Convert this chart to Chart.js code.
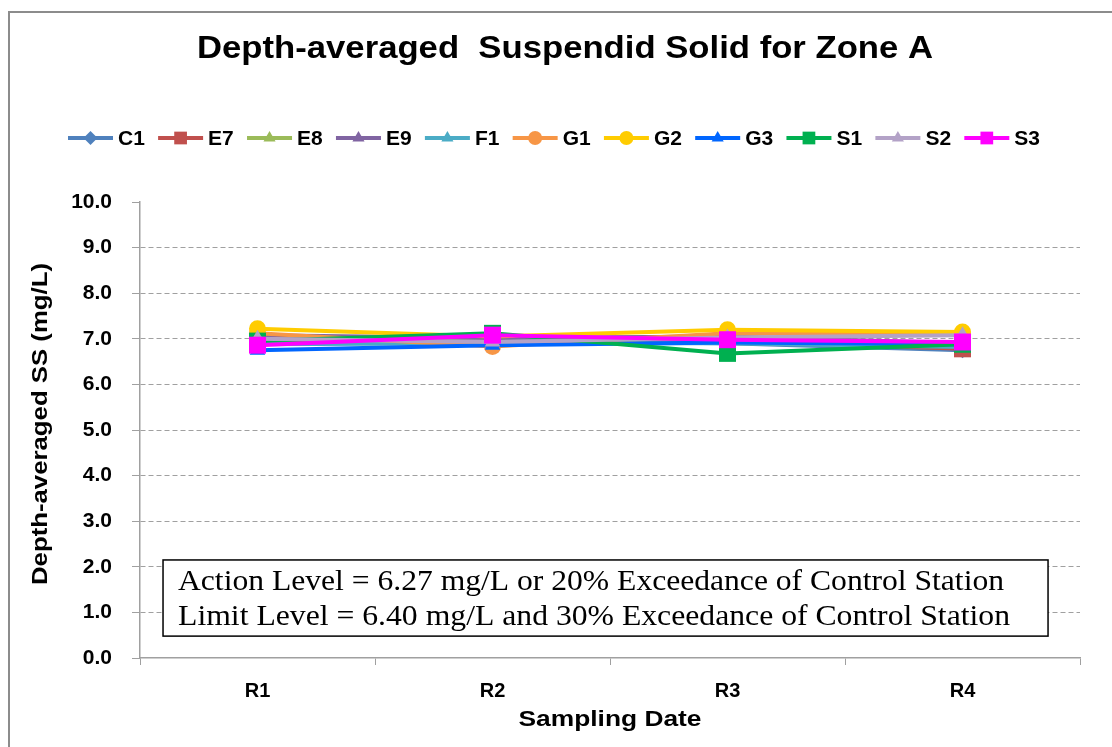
<!DOCTYPE html>
<html>
<head>
<meta charset="utf-8">
<script src="https://cdn.jsdelivr.net/npm/chart.js@4.4.1/dist/chart.umd.min.js"></script>
<style>
html,body{margin:0;padding:0;background:#fff;}
#wrap{width:1112px;height:747px;position:relative;}
</style>
</head>
<body>
<div id="wrap"><canvas id="c" width="1112" height="747"></canvas></div>
<script>
// ---- data ----
const categories = ["R1", "R2", "R3", "R4"];
const seriesNames = ["C1", "E7", "E8", "E9", "F1", "G1", "G2", "G3", "S1", "S2", "S3"];
const C1 = [6.95, 6.95, 6.90, 6.75];
const E7 = [6.90, 7.00, 6.95, 6.78];
const E8 = [7.00, 7.00, 7.05, 6.85];
const E9 = [7.08, 7.02, 7.05, 6.90];
const F1 = [6.88, 6.90, 6.90, 6.82];
const G1 = [7.12, 6.83, 7.12, 7.10];
const G2 = [7.22, 7.05, 7.20, 7.15];
const G3 = [6.75, 6.86, 6.92, 6.88];
const S1 = [6.95, 7.12, 6.68, 6.88];
const S2 = [7.00, 6.93, 7.03, 7.08];
const S3 = [6.86, 7.08, 6.98, 6.93];
const seriesValues = [C1, E7, E8, E9, F1, G1, G2, G3, S1, S2, S3];
const yTicks = [0, 1, 2, 3, 4, 5, 6, 7, 8, 9, 10];
const chartTitle = "Depth-averaged  Suspendid Solid for Zone A";
const yTitle = "Depth-averaged SS (mg/L)";
const xTitle = "Sampling Date";
const noteLines = [
  "Action Level = 6.27 mg/L or 20% Exceedance of Control Station",
  "Limit Level = 6.40 mg/L and 30% Exceedance of Control Station"
];

// ---- styles ----
const colors = ["#4F81BD", "#C0504D", "#9BBB59", "#8064A2", "#4BACC6", "#F79646", "#FFCC00", "#0066FF", "#00B050", "#B3A2C7", "#FF00FF"];
const shapes = ["rectRot", "rect", "triangle", "triangle", "triangle", "circle", "circle", "triangle", "rect", "triangle", "rect"];
const radii = {rectRot: 8, rect: 12, triangle: 9, circle: 8.5};
const SANS = '"Liberation Sans", Arial, sans-serif';

const datasets = seriesNames.map((n, i) => ({
  label: n,
  data: seriesValues[i],
  borderColor: colors[i],
  backgroundColor: colors[i],
  borderWidth: 4,
  pointStyle: shapes[i],
  pointRadius: radii[shapes[i]],
  pointHoverRadius: radii[shapes[i]],
  pointBorderWidth: 0,
  tension: 0,
  order: seriesNames.length - i
}));

function fitText(ctx, text, cx, cy, targetW, align) {
  const mw = ctx.measureText(text).width;
  const sx = targetW / mw;
  ctx.save();
  ctx.translate(cx, cy);
  ctx.scale(sx, 1);
  ctx.textAlign = align || 'center';
  ctx.fillText(text, 0, 0);
  ctx.restore();
}

const bgPlugin = {
  id: 'bg',
  beforeDraw(chart) {
    const ctx = chart.ctx;
    ctx.save();
    ctx.fillStyle = '#fff';
    ctx.fillRect(0, 0, chart.width, chart.height);
    ctx.strokeStyle = '#8c8c8c';
    ctx.lineWidth = 2;
    ctx.strokeRect(9, 12, chart.width + 20, chart.height + 20);
    ctx.restore();
  }
};

const textPlugin = {
  id: 'texts',
  afterDraw(chart) {
    const ctx = chart.ctx;
    const a = chart.chartArea;
    ctx.save();
    ctx.fillStyle = '#000';
    ctx.textBaseline = 'middle';
    // title
    ctx.font = 'bold 32px ' + SANS;
    fitText(ctx, chartTitle, 565, 49, 736);
    // axis titles
    ctx.font = 'bold 22px ' + SANS;
    fitText(ctx, xTitle, (a.left + a.right) / 2, 720, 183);
    ctx.save();
    ctx.translate(41, (a.top + a.bottom) / 2 - 6);
    ctx.rotate(-Math.PI / 2);
    fitText(ctx, yTitle, 0, 0, 322);
    ctx.restore();
    // legend
    ctx.font = 'bold 21px ' + SANS;
    const lineLen = 45, gap = 5;
    const widths = seriesNames.map(n => lineLen + gap + ctx.measureText(n).width);
    const sum = widths.reduce((p, q) => p + q, 0);
    const itemGap = (1040 - 68 - sum) / (seriesNames.length - 1);
    let x = 68;
    const y = 138;
    ctx.textAlign = 'left';
    seriesNames.forEach((n, i) => {
      ctx.strokeStyle = colors[i];
      ctx.lineWidth = 4;
      ctx.beginPath();
      ctx.moveTo(x, y);
      ctx.lineTo(x + lineLen, y);
      ctx.stroke();
      ctx.fillStyle = colors[i];
      const r = shapes[i] === 'rect' ? 9 : 7;
      Chart.helpers.drawPoint(ctx, {pointStyle: shapes[i], radius: r, borderWidth: 0}, x + lineLen / 2, y);
      ctx.fillStyle = '#000';
      ctx.fillText(n, x + lineLen + gap, y + 1);
      x += widths[i] + itemGap;
    });
    ctx.restore();
  }
};

const notePlugin = {
  id: 'note',
  afterDatasetsDraw(chart) {
    const ctx = chart.ctx;
    const a = chart.chartArea;
    const w = a.right - a.left, h = a.bottom - a.top;
    const bx = a.left + w * 0.0245, by = a.top + h * 0.785;
    const bw = w * 0.9415, bh = h * 0.167;
    ctx.save();
    ctx.fillStyle = '#fff';
    ctx.fillRect(bx, by, bw, bh);
    ctx.strokeStyle = '#000';
    ctx.lineWidth = 1.5;
    ctx.strokeRect(bx, by, bw, bh);
    ctx.fillStyle = '#000';
    ctx.font = '30px "Liberation Serif", "Times New Roman", serif';
    ctx.textBaseline = 'middle';
    const targetW = [826, 832];
    noteLines.forEach((t, k) => {
      fitText(ctx, t, bx + 15, by + bh * (0.29 + 0.46 * k), targetW[k], 'left');
    });
    ctx.restore();
  }
};

new Chart(document.getElementById('c'), {
  type: 'line',
  data: {labels: categories, datasets},
  plugins: [bgPlugin, textPlugin, notePlugin],
  options: {
    responsive: false,
    animation: false,
    events: [],
    layout: {padding: {top: 202, right: 32, left: 0, bottom: 0}},
    plugins: {legend: {display: false}, title: {display: false}, tooltip: {enabled: false}},
    scales: {
      x: {
        type: 'category',
        offset: true,
        grid: {
          offset: true,
          drawOnChartArea: false,
          drawTicks: true,
          tickLength: 7,
          color: '#a0a0a0'
        },
        border: {color: '#a0a0a0', width: 1.5},
        ticks: {
          color: '#000',
          padding: 14,
          font: {family: SANS, size: 20, weight: 'bold'}
        },
        afterFit(s) { s.height = 747 - 658; }
      },
      y: {
        min: 0,
        max: 10,
        afterBuildTicks(s) { s.ticks = yTicks.map(v => ({value: v})); },
        grid: {
          color: (c) => (c.tick && (c.tick.value === 10 || c.tick.value === 0)) ? 'rgba(0,0,0,0)' : '#a0a0a0',
          tickColor: '#a0a0a0',
          tickLength: 8,
          lineWidth: 1
        },
        border: {color: '#a0a0a0', width: 1.5, dash: [5, 3]},
        ticks: {
          color: '#000',
          padding: 20,
          callback: (v) => Number(v).toFixed(1),
          font: {family: SANS, size: 21, weight: 'bold'}
        },
        afterFit(s) { s.width = 140; }
      }
    }
  }
});
</script>
</body>
</html>
